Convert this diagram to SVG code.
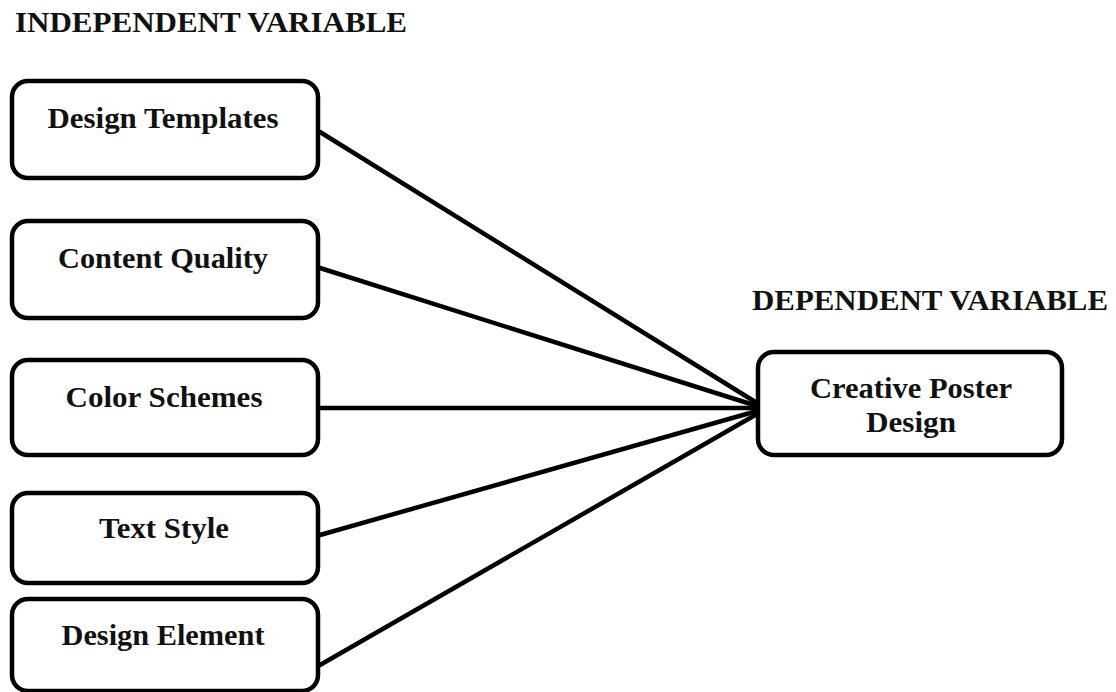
<svg xmlns="http://www.w3.org/2000/svg" width="1116" height="692" viewBox="0 0 1116 692">
<style>
.box{fill:#fff;stroke:#000;stroke-width:4.5}
.lbl{font-family:"Liberation Serif","Times New Roman",serif;font-weight:bold;font-size:29px;fill:#111;text-anchor:middle}
.hdr{font-family:"Liberation Serif","Times New Roman",serif;font-weight:bold;font-size:29px;fill:#111}
.conn{stroke:#000;stroke-width:4.5;fill:none;stroke-linecap:round}
</style>
<rect width="1116" height="692" fill="#fff"/>
<text class="hdr" x="15" y="32" textLength="392" lengthAdjust="spacingAndGlyphs">INDEPENDENT VARIABLE</text>
<text class="hdr" x="752" y="310" textLength="356" lengthAdjust="spacingAndGlyphs">DEPENDENT VARIABLE</text>
<g id="connectors">
<line class="conn" x1="320" y1="132" x2="757" y2="403"/>
<line class="conn" x1="320" y1="268" x2="757" y2="406"/>
<line class="conn" x1="320" y1="408" x2="757" y2="408"/>
<line class="conn" x1="320" y1="535" x2="757" y2="411"/>
<line class="conn" x1="320" y1="665" x2="757" y2="414"/>
</g>
<g id="design-templates">
<rect class="box" x="12" y="81" width="306" height="97" rx="16"/>
<text class="lbl" x="163" y="128" textLength="231" lengthAdjust="spacingAndGlyphs">Design Templates</text>
</g>
<g id="content-quality">
<rect class="box" x="12" y="221" width="306" height="97" rx="16"/>
<text class="lbl" x="163" y="268" textLength="210" lengthAdjust="spacingAndGlyphs">Content Quality</text>
</g>
<g id="color-schemes">
<rect class="box" x="12" y="360" width="306" height="95" rx="16"/>
<text class="lbl" x="164" y="407" textLength="197" lengthAdjust="spacingAndGlyphs">Color Schemes</text>
</g>
<g id="text-style">
<rect class="box" x="12" y="493" width="306" height="90" rx="16"/>
<text class="lbl" x="164" y="538" textLength="130" lengthAdjust="spacingAndGlyphs">Text Style</text>
</g>
<g id="design-element">
<rect class="box" x="12" y="599" width="306" height="92" rx="16"/>
<text class="lbl" x="163" y="645" textLength="203" lengthAdjust="spacingAndGlyphs">Design Element</text>
</g>
<g id="creative-poster-design">
<rect class="box" x="758" y="352" width="304" height="103" rx="16"/>
<text class="lbl" x="911" y="398" textLength="202" lengthAdjust="spacingAndGlyphs">Creative Poster</text>
<text class="lbl" x="911" y="432" textLength="90" lengthAdjust="spacingAndGlyphs">Design</text>
</g>
</svg>
